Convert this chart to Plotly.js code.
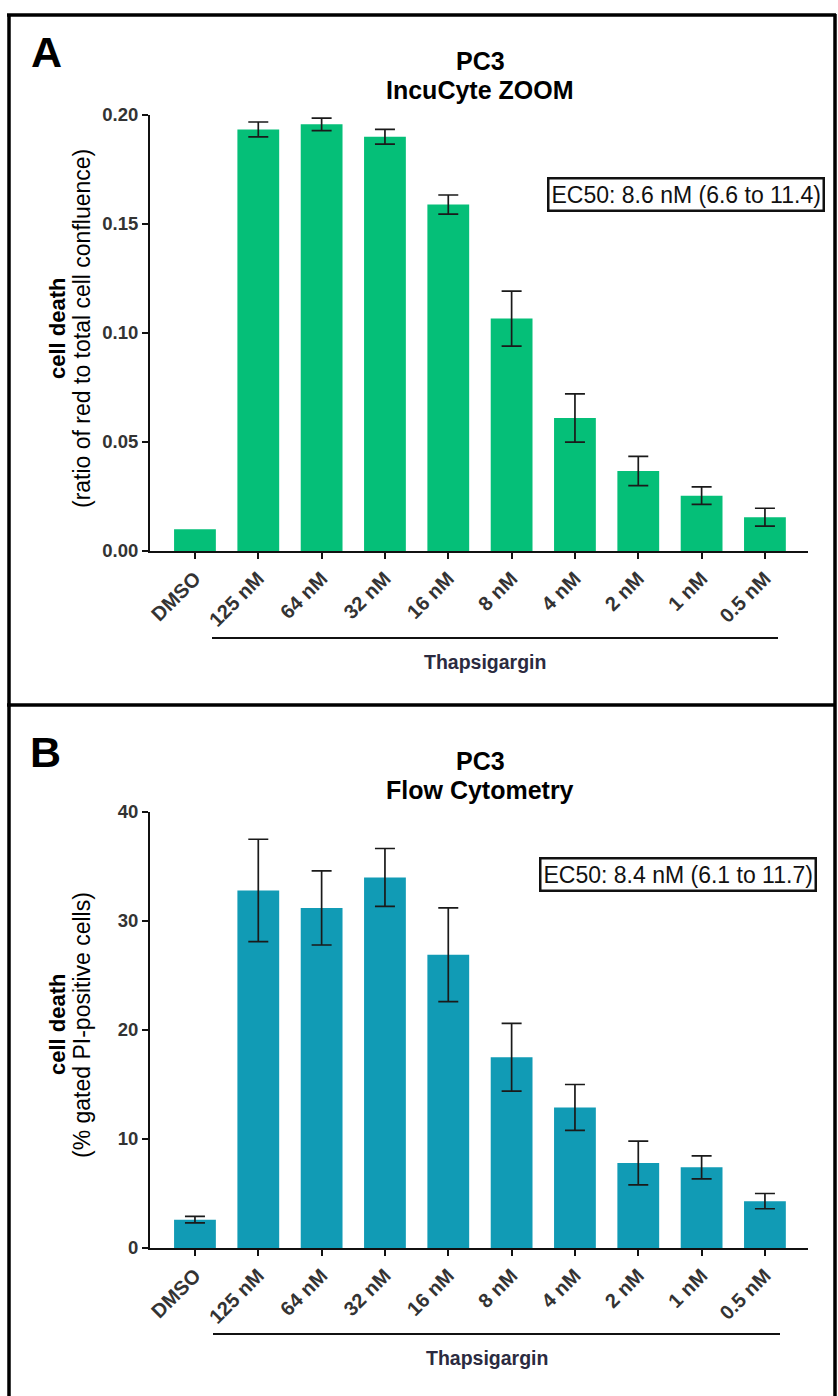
<!DOCTYPE html>
<html>
<head>
<meta charset="utf-8">
<script src="https://cdn.plot.ly/plotly-3.0.1.min.js"></script>
<style>html,body{margin:0;padding:0;background:#fff;}#chart{width:838px;height:1396px;}</style>
</head>
<body>
<div id="chart"></div>
<script>
// ---- data ----
const categories = ['DMSO', '125 nM', '64 nM', '32 nM', '16 nM', '8 nM', '4 nM', '2 nM', '1 nM', '0.5 nM'];
const incucyteValues = [0.010, 0.1934, 0.1957, 0.1900, 0.1589, 0.1066, 0.0610, 0.0367, 0.0254, 0.0155];
const incucyteErrors = [NaN, 0.0034, 0.0029, 0.0034, 0.0044, 0.0126, 0.0111, 0.0067, 0.0040, 0.0041];
const flowValues = [2.6, 32.8, 31.2, 34.0, 26.9, 17.5, 12.9, 7.8, 7.4, 4.3];
const flowErrors = [0.3, 4.7, 3.4, 2.65, 4.3, 3.1, 2.1, 2.0, 1.05, 0.7];
const yTicksA = [0, 0.05, 0.10, 0.15, 0.20];
const yTickLabelsA = ['0.00', '0.05', '0.10', '0.15', '0.20'];
const yTicksB = [0, 10, 20, 30, 40];
const yTickLabelsB = ['0', '10', '20', '30', '40'];
const ec50A = 'EC50: 8.6 nM (6.6 to 11.4)';
const ec50B = 'EC50: 8.4 nM (6.1 to 11.7)';

// ---- helpers ----
const W = 838, H = 1396;
const px = x => x / W;
const py = y => 1 - y / H;
const FONT = '"Liberation Sans", Arial, Helvetica, sans-serif';
const bold = s => '<b>' + s + '</b>';

const errStyle = {type: 'data', visible: true, color: '#1a1a1a', thickness: 1.7, width: 10};

const traces = [
  {type: 'bar', x: categories, y: incucyteValues, xaxis: 'x', yaxis: 'y',
   marker: {color: '#05BF78', line: {width: 0}},
   error_y: Object.assign({array: incucyteErrors}, errStyle), hoverinfo: 'none'},
  {type: 'bar', x: categories, y: flowValues, xaxis: 'x2', yaxis: 'y2',
   marker: {color: '#119BB5', line: {width: 0}},
   error_y: Object.assign({array: flowErrors}, errStyle), hoverinfo: 'none'}
];

const xCommon = {
  type: 'category', range: [-0.71, 9.68], showline: true, linewidth: 2, linecolor: '#111',
  ticks: 'outside', ticklen: 6, tickwidth: 2, tickcolor: '#111', tickangle: -45,
  tickmode: 'array', tickvals: categories, ticktext: categories.map(bold),
  tickfont: {family: FONT, size: 20, color: '#333'}, showgrid: false, zeroline: false,
  domain: [px(150), px(808)]
};
const yCommon = {
  showline: true, linewidth: 2, linecolor: '#111', ticks: 'outside', ticklen: 6, tickwidth: 2,
  tickcolor: '#111', tickfont: {family: FONT, size: 18.5, color: '#333'}, showgrid: false,
  zeroline: false, tickmode: 'array'
};

const layout = {
  width: W, height: H, margin: {l: 0, r: 0, t: 0, b: 0}, showlegend: false,
  paper_bgcolor: '#fff', plot_bgcolor: '#fff', bargap: 0.34,
  font: {family: FONT, color: '#000'},
  xaxis: Object.assign({}, xCommon, {anchor: 'y'}),
  xaxis2: Object.assign({}, xCommon, {anchor: 'y2'}),
  yaxis: Object.assign({}, yCommon, {anchor: 'x', range: [0, 0.2], tickvals: yTicksA,
    ticktext: yTickLabelsA.map(bold), domain: [py(551), py(115)]}),
  yaxis2: Object.assign({}, yCommon, {anchor: 'x2', range: [0, 40], tickvals: yTicksB,
    ticktext: yTickLabelsB.map(bold), domain: [py(1248), py(812)]}),
  shapes: [
    // frame
    {type: 'line', xref: 'paper', yref: 'paper', x0: px(9), x1: px(9), y0: py(14), y1: py(1396), line: {color: '#000', width: 3.5}},
    {type: 'line', xref: 'paper', yref: 'paper', x0: px(7), x1: px(836), y0: py(15), y1: py(15), line: {color: '#000', width: 3.5}},
    {type: 'line', xref: 'paper', yref: 'paper', x0: px(835), x1: px(835), y0: py(14), y1: py(1396), line: {color: '#000', width: 3.5}},
    {type: 'line', xref: 'paper', yref: 'paper', x0: px(7), x1: px(836), y0: py(705), y1: py(705), line: {color: '#000', width: 3.5}},
    // bracket lines
    {type: 'line', xref: 'paper', yref: 'paper', x0: px(212), x1: px(778), y0: py(638), y1: py(638), line: {color: '#111', width: 2}},
    {type: 'line', xref: 'paper', yref: 'paper', x0: px(213), x1: px(780), y0: py(1334), y1: py(1334), line: {color: '#111', width: 2}}
  ],
  annotations: [
    {text: '<b>A</b>', xref: 'paper', yref: 'paper', x: px(46), y: py(52), xanchor: 'center', yanchor: 'middle', showarrow: false, font: {family: FONT, size: 43, color: '#000'}},
    {text: '<b>B</b>', xref: 'paper', yref: 'paper', x: px(45), y: py(752), xanchor: 'center', yanchor: 'middle', showarrow: false, font: {family: FONT, size: 43, color: '#000'}},
    {text: '<b>PC3</b>', xref: 'paper', yref: 'paper', x: px(480), y: py(61), xanchor: 'center', yanchor: 'middle', showarrow: false, font: {family: FONT, size: 25, color: '#000'}},
    {text: '<b>IncuCyte ZOOM</b>', xref: 'paper', yref: 'paper', x: px(480), y: py(90), xanchor: 'center', yanchor: 'middle', showarrow: false, font: {family: FONT, size: 25, color: '#000'}},
    {text: '<b>PC3</b>', xref: 'paper', yref: 'paper', x: px(480), y: py(761), xanchor: 'center', yanchor: 'middle', showarrow: false, font: {family: FONT, size: 25, color: '#000'}},
    {text: '<b>Flow Cytometry</b>', xref: 'paper', yref: 'paper', x: px(480), y: py(790), xanchor: 'center', yanchor: 'middle', showarrow: false, font: {family: FONT, size: 25, color: '#000'}},
    // y titles
    {text: '<b>cell death</b>', xref: 'paper', yref: 'paper', x: px(57), y: py(329), textangle: -90, xanchor: 'center', yanchor: 'middle', showarrow: false, font: {family: FONT, size: 22, color: '#000'}},
    {text: '(ratio of red to total cell confluence)', xref: 'paper', yref: 'paper', x: px(82), y: py(329), textangle: -90, xanchor: 'center', yanchor: 'middle', showarrow: false, font: {family: FONT, size: 23, color: '#000'}},
    {text: '<b>cell death</b>', xref: 'paper', yref: 'paper', x: px(57), y: py(1025), textangle: -90, xanchor: 'center', yanchor: 'middle', showarrow: false, font: {family: FONT, size: 22, color: '#000'}},
    {text: '(% gated PI-positive cells)', xref: 'paper', yref: 'paper', x: px(82), y: py(1025), textangle: -90, xanchor: 'center', yanchor: 'middle', showarrow: false, font: {family: FONT, size: 23, color: '#000'}},
    // group labels
    {text: '<b>Thapsigargin</b>', xref: 'paper', yref: 'paper', x: px(485), y: py(662), xanchor: 'center', yanchor: 'middle', showarrow: false, font: {family: FONT, size: 19.5, color: '#2b2b40'}},
    {text: '<b>Thapsigargin</b>', xref: 'paper', yref: 'paper', x: px(487), y: py(1358), xanchor: 'center', yanchor: 'middle', showarrow: false, font: {family: FONT, size: 19.5, color: '#2b2b40'}},
    // EC50 boxes
    {text: ec50A, xref: 'paper', yref: 'paper', x: px(685.5), y: py(194), xanchor: 'center', yanchor: 'middle', showarrow: false, font: {family: FONT, size: 23, color: '#111'}, bordercolor: '#111', borderwidth: 2.5, borderpad: 2, bgcolor: '#fff'},
    {text: ec50B, xref: 'paper', yref: 'paper', x: px(677.5), y: py(874), xanchor: 'center', yanchor: 'middle', showarrow: false, font: {family: FONT, size: 23, color: '#111'}, bordercolor: '#111', borderwidth: 2.5, borderpad: 2, bgcolor: '#fff'}
  ]
};

Plotly.newPlot('chart', traces, layout, {staticPlot: true, displayModeBar: false});
</script>
</body>
</html>
